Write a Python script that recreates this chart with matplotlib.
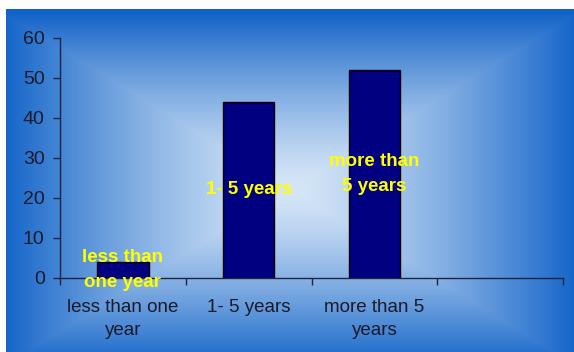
import numpy as np
import matplotlib.pyplot as plt

# data
categories = ["less than one\nyear", "1- 5 years", "more than 5\nyears", ""]
values = [4, 44, 52]
bar_labels = ["less than\none year", "1- 5 years", "more than\n5 years"]

plt.rcParams['font.family'] = ['Liberation Sans', 'DejaVu Sans']

fig = plt.figure(figsize=(5.74, 3.52), dpi=100)
fig.patch.set_facecolor("white")

# rectangular "from centre" gradient background
bg = fig.add_axes([6 / 574, 0, 568 / 574, 343 / 352])
h, w = 343, 568
yy, xx = np.mgrid[0:h, 0:w]
cx, cy = 284, 180
t = np.maximum(np.abs(xx - cx) / 290, np.abs(yy - cy) / 178).clip(0, 1)
t = t ** 1.35
c0 = np.array([214, 230, 247]) / 255
c1 = np.array([16, 98, 200]) / 255
img = c0 * (1 - t[..., None]) + c1 * t[..., None]
bg.imshow(img, aspect="auto", interpolation="bilinear")
bg.axis("off")

ax = fig.add_axes([60 / 574, 74 / 352, 503 / 574, 240 / 352])
ax.patch.set_alpha(0)
x = np.arange(len(categories))
ax.bar(x[:len(values)], values, width=0.41, color="#000080", edgecolor="black",
       linewidth=1, zorder=2)

for i, lab in enumerate(bar_labels):
    ax.text(x[i], max(values[i] / 2, 2), lab, ha="center", va="center",
            color="#ffff00", fontsize=13.5, fontweight="bold", linespacing=1.55,
            zorder=4)

axis_col = "#1c2440"
ax.set_xlim(-0.5, 3.5)
ax.set_ylim(0, 60)
ax.set_yticks(range(0, 61, 10))
ax.set_xticks(x)
ax.set_xticklabels(categories, linespacing=1.45)
ax.set_xticks(np.arange(-0.5, 4, 1), minor=True)
ax.tick_params(axis="x", which="major", length=0, pad=15, labelsize=13.5, labelcolor="#1a1a2a")
ax.tick_params(axis="x", which="minor", length=5, width=1, color=axis_col, direction="out")
ax.tick_params(axis="y", length=5, width=1, color=axis_col, pad=6, labelsize=14, labelcolor="#1a1a2a")
for s in ["top", "right"]:
    ax.spines[s].set_visible(False)
for s in ["left", "bottom"]:
    ax.spines[s].set_color(axis_col)
    ax.spines[s].set_linewidth(1)
    ax.spines[s].set_zorder(3)

fig.savefig("out.png", dpi=100)
